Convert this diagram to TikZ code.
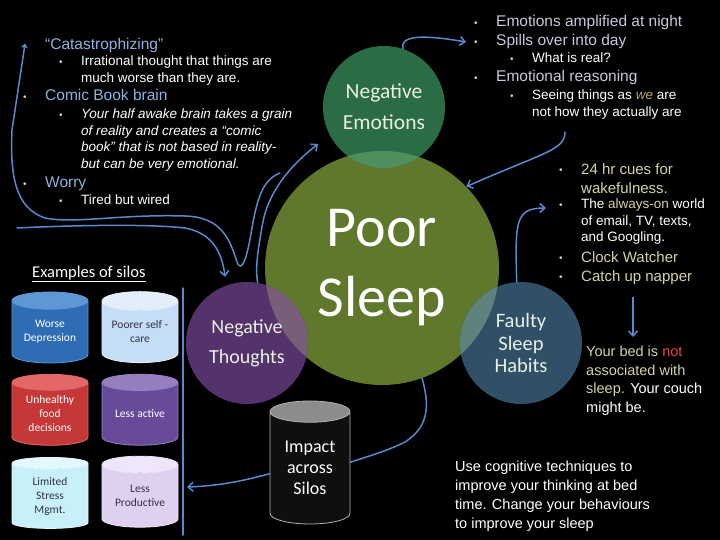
\documentclass[tikz,border=0pt]{standalone}
\usepackage{fontspec}
\setmainfont{Liberation Sans}
\newfontfamily\calib{Carlito}
\usetikzlibrary{shapes.geometric,arrows.meta}

\definecolor{arrblue}{RGB}{88,138,205}
\definecolor{dotgrey}{RGB}{205,205,205}
\definecolor{lblue}{RGB}{141,179,226}
\definecolor{lilac}{RGB}{200,200,222}
\definecolor{khaki}{RGB}{214,210,165}
\definecolor{notred}{RGB}{232,72,62}
\definecolor{wetan}{RGB}{190,165,105}
\definecolor{sleepgreen}{RGB}{96,120,44}
\definecolor{emogreen}{RGB}{44,108,68}
\definecolor{emolight}{RGB}{80,142,94}
\definecolor{thoupurp}{RGB}{84,50,108}
\definecolor{thoulight}{RGB}{120,94,120}
\definecolor{habblue}{RGB}{48,80,104}
\definecolor{hablight}{RGB}{94,130,124}
\definecolor{bubtxt}{RGB}{232,240,225}
\definecolor{silotxt}{RGB}{50,50,70}
\definecolor{deprbody}{RGB}{46,108,180}
\definecolor{deprend}{RGB}{95,150,212}
\definecolor{carebody}{RGB}{198,222,245}
\definecolor{careend}{RGB}{226,238,250}
\definecolor{foodbody}{RGB}{198,56,56}
\definecolor{foodend}{RGB}{226,104,104}
\definecolor{actbody}{RGB}{104,74,154}
\definecolor{actend}{RGB}{150,126,190}
\definecolor{stressbody}{RGB}{200,240,248}
\definecolor{stressend}{RGB}{228,248,252}
\definecolor{prodbody}{RGB}{224,208,240}
\definecolor{prodend}{RGB}{240,230,250}

\newcommand\setfs[2]{\fontsize{#1}{#2}\selectfont}
\newcommand\bu{\makebox[23pt][l]{\hspace{1pt}\raisebox{0.5pt}{\textcolor{dotgrey}{\setfs{10}{10}\textbullet}}}}
\newcommand\ind{\hspace*{23pt}}

\tikzset{
  flow/.style={draw=arrblue, line width=1.5pt, line cap=round, -{Straight Barb[length=5pt,width=9pt]}},
  link/.style={draw=arrblue, line width=1.5pt, line cap=round},
  bubble/.style={circle, minimum size=122pt, inner sep=0pt, align=center, text=bubtxt, font=\calib\setfs{20}{30}},
  silo/.style={cylinder, shape border rotate=90, aspect=0.33, minimum width=76pt, minimum height=71pt, inner sep=0pt, cylinder uses custom fill, line width=0.8pt, align=center, font=\calib\setfs{11.5}{14}},
  headitem/.style={anchor=base west, inner sep=0pt, font=\setfs{15.5}{18}},
  subitem/.style={anchor=north west, inner sep=0pt, align=left, text=white, font=\setfs{13.5}{16.5}},
  note/.style={anchor=north west, inner sep=0pt, align=left, text=white, font=\setfs{14.5}{18.8}},
}

\begin{document}
\begin{tikzpicture}[x=1pt, y=-1pt]
  \fill[black] (0,0) rectangle (720,540);
  \useasboundingbox (0,0) rectangle (720,540);

  % Bubbles
  \node[circle, fill=sleepgreen, minimum size=234pt, inner sep=0pt, align=center, text=white, font=\calib\setfs{58}{70}] (poor) at (382,268) {Poor\\Sleep};
  \node[bubble, fill=emogreen, path picture={\fill[emolight] (poor.center) circle (117pt);}, font=\calib\setfs{21.5}{31}] (negemo) at (384,107) {Negative\\Emotions};
  \node[bubble, fill=thoupurp, path picture={\fill[thoulight] (poor.center) circle (117pt);}] (negthou) at (247,343) {Negative\\Thoughts};
  \node[bubble, fill=habblue, path picture={\fill[hablight] (poor.center) circle (117pt);}, font=\calib\setfs{20.5}{22.5}] (faulty) at (521,343) {Faulty\\Sleep\\Habits};

  % Left list
  \node[headitem, text=lblue] (catas) at (22,50) {\bu “Catastrophizing”};
  \node[subitem] (irrat) at (58,56) {\bu Irrational thought that things are\\ \ind much worse than they are.};
  \node[headitem, text=lblue] (comic) at (22,101) {\bu Comic Book brain};
  \node[subitem, font=\itshape\setfs{13.5}{16.5}] (halfawake) at (58,109) {\bu Your half awake brain takes a grain\\ \ind of reality and creates a “comic\\ \ind book” that is not based in reality-\\ \ind but can be very emotional.};
  \node[headitem, text=lblue] (worry) at (22,188) {\bu Worry};
  \node[subitem, anchor=base west] (wired) at (58,205) {\bu Tired but wired};

  % Top right list
  \node[headitem, text=lilac] (ampl) at (473,27) {\bu Emotions amplified at night};
  \node[headitem, text=lilac] (spill) at (473,46) {\bu Spills over into day};
  \node[subitem, anchor=base west] (real) at (509,63) {\bu What is real?};
  \node[headitem, text=lilac] (reason) at (473,82) {\bu Emotional reasoning};
  \node[subitem] (seeing) at (509,90) {\bu Seeing things as \textcolor{wetan}{\itshape we} are\\ \ind not how they actually are};

  % Right list
  \node[subitem, text=khaki, font=\setfs{15}{19}] (cues) at (558,163) {\bu 24 hr cues for\\ \ind wakefulness.};
  \node[subitem] (always) at (558,199) {\bu The \textcolor{khaki}{always-on} world\\ \ind of email, TV, texts,\\ \ind and Googling.};
  \node[headitem, text=khaki, font=\setfs{15}{19}] (clock) at (558,262) {\bu Clock Watcher};
  \node[headitem, text=khaki, font=\setfs{15}{19}] (napper) at (558,281) {\bu Catch up napper};
  \node[note, text=khaki, font=\setfs{14.5}{18.5}] (bed) at (586,346) {Your bed is \textcolor{notred}{not}\\ associated with\\ sleep. \textcolor{white}{Your couch}\\ \textcolor{white}{might be.}};

  % Bottom note
  \node[note] (usecog) at (455,461) {Use cognitive techniques to\\ improve your thinking at bed\\ time. Change your behaviours\\ to improve your sleep};

  % Silos
  \node[anchor=base west, inner sep=0pt, text=white, font=\calib\setfs{16.5}{20}] (examples) at (32,277) {\underline{Examples of silos}};
  \node[silo, cylinder body fill=deprbody, cylinder end fill=deprend, draw=deprend, text=white] (depress) at (50,332) {Worse\\Depression};
  \node[silo, cylinder body fill=carebody, cylinder end fill=careend, draw=careend, text=silotxt] (selfcare) at (140,332) {Poorer self -\\care};
  \node[silo, cylinder body fill=foodbody, cylinder end fill=foodend, draw=foodend, text=white] (food) at (50,414) {Unhealthy\\food\\decisions};
  \node[silo, cylinder body fill=actbody, cylinder end fill=actend, draw=actend, text=white] (active) at (140,414) {Less active};
  \node[silo, cylinder body fill=stressbody, cylinder end fill=stressend, draw=stressend, text=silotxt] (stress) at (50,496) {Limited\\Stress\\Mgmt.};
  \node[silo, cylinder body fill=prodbody, cylinder end fill=prodend, draw=prodend, text=silotxt] (product) at (140,496) {Less\\Productive};
  \node[silo, minimum width=80pt, minimum height=123pt, aspect=0.42, cylinder body fill=black!94, cylinder end fill=black!45, draw=black!30, text=white, font=\calib\setfs{18}{21}] (impact) at (310,468) {Impact\\across\\Silos};

  % Divider
  \coordinate (bartop) at (183,288);
  \coordinate (barbot) at (183,535);
  \coordinate (barhit) at (187,487);
  \draw[link] (bartop) -- (barbot);

  % Connectors
  \coordinate (worrystart) at (280,173);
  \coordinate (catatip) at (25,44);
  \coordinate (comicstart) at (17,228);
  \coordinate (thoutip) at (318,144);
  \coordinate (reasonend) at (565,132);
  \coordinate (habtip) at (546,208);
  \coordinate (dnx) at (633,0);
  \draw[link, -{Straight Barb[length=2.5pt,width=5pt]}] (worrystart) .. controls (262,180) and (257,200) .. (252,228) .. controls (247,258) and (242,274) .. (237,262) .. controls (230,240) and (222,217) .. (185,216) .. controls (120,214) and (75,224) .. (45,218) .. controls (15,208) and (10,175) .. (12,130) -- (catatip);
  \draw[flow] (comicstart) .. controls (80,225) and (150,224) .. (185,228) .. controls (212,233) and (222,252) .. ([yshift=9pt]negthou.111);
  \draw[flow] (negthou.80) .. controls (255,268) and (258,250) .. (262,227) .. controls (266,200) and (282,172) .. (thoutip);
  \draw[flow] (negemo.72) .. controls (400,36) and (420,34) .. ([xshift=-7pt]spill.west);
  \draw[flow] (reasonend) .. controls (565,150) and (545,152) .. (poor.44);
  \draw[flow] (faulty.94) .. controls (515,222) and (515,208) .. (habtip);
  \draw[flow] ([yshift=-13pt]napper.south -| dnx) -- ([yshift=9pt]bed.north -| dnx);
  \draw[link] (poor.-70) .. controls (428,400) and (432,425) .. (405,442) .. controls (385,452) and (365,457) .. (impact.8);
  \draw[flow] (impact.188) .. controls (240,482) and (215,486) .. (barhit);
\end{tikzpicture}
\end{document}
